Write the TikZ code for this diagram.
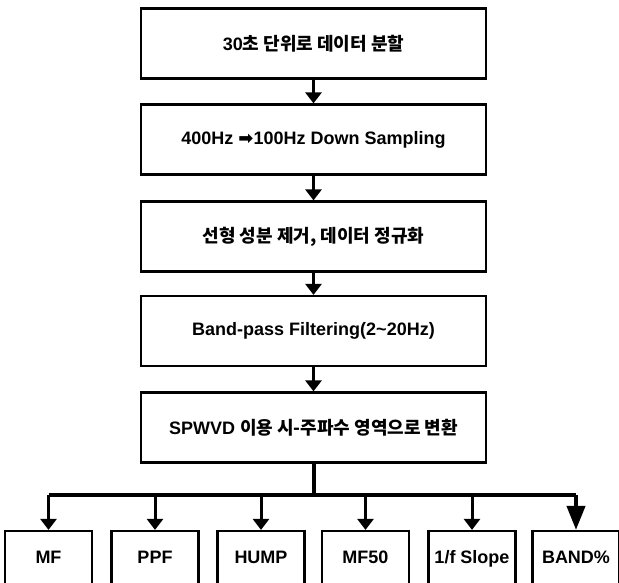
\documentclass[tikz,border=0pt]{standalone}
\usepackage{fontspec}
\setmainfont{Liberation Sans}
\newfontfamily\kor{Noto Sans CJK KR}
\newfontfamily\sym{DejaVu Sans}
\usetikzlibrary{arrows.meta, positioning}
\tikzset{
  stagebox/.style={
    rectangle, draw=black, line width=2.2pt,
    minimum width=345pt, minimum height=70pt,
    text centered, font=\fontsize{18}{21}\selectfont\bfseries
  },
  featbox/.style={
    rectangle, draw=black, line width=2.2pt,
    minimum width=87pt, minimum height=56pt,
    text height=13pt, text depth=4pt,
    text centered, font=\fontsize{18}{21}\selectfont\bfseries
  },
  steparrow/.style={-{Triangle[width=16pt,length=11pt]}, line width=3pt},
  busline/.style={line width=4pt},
  bigarrow/.style={-{Triangle[width=18pt,length=24pt]}, line width=4pt},
}

\begin{document}
\begin{tikzpicture}[x=1pt, y=-1pt]
  \fill[white] (0,0) rectangle (619,583);
  \useasboundingbox (0,0) rectangle (619,583);
  \clip (0,0) rectangle (619,583);
      % processing chain
      \node[stagebox] (split) at (313.5,43.5)  {30{\kor 초 단위로 데이터 분할}};
      \node[stagebox] (down)  at (313.5,139.5) {400Hz {\sym ➡}100Hz Down Sampling};
      \node[stagebox] (norm)  at (313.5,236.5) {\kor 선형 성분 제거, 데이터 정규화};
      \node[stagebox] (bpf)   at (313.5,331)   {Band-pass Filtering(2\textasciitilde20Hz)};
      \node[stagebox] (sp)    at (313.5,427.5) {SPWVD {\kor 이용 시-주파수 영역으로 변환}};
      \draw[steparrow] (split) -- (down);
      \draw[steparrow] (down)  -- (norm);
      \draw[steparrow] (norm)  -- (bpf);
      \draw[steparrow] (bpf)   -- (sp);
      % extracted features
      \node[featbox] (mf)    at (48.5,559)  {MF};
      \node[featbox] (ppf)   at (155,559)   {PPF};
      \node[featbox] (hump)  at (261,559)   {HUMP};
      \node[featbox] (mfhalf) at (365.5,559) {MF50};
      \node[featbox] (slope) at (472,559)   {1/f Slope};
      \node[featbox] (band)  at (576,559)   {BAND\%};
      \coordinate (bus) at (313.5,495);
      \draw[busline] (sp.south) -- (bus);
      \draw[busline] (bus -| mf.north) -- (bus -| band.north);
      \draw[steparrow] (bus -| mf.north)     -- (mf.north);
      \draw[steparrow] (bus -| ppf.north)    -- (ppf.north);
      \draw[steparrow] (bus -| hump.north)   -- (hump.north);
      \draw[steparrow] (bus -| mfhalf.north) -- (mfhalf.north);
      \draw[steparrow] (bus -| slope.north)  -- (slope.north);
      \draw[bigarrow]  (bus -| band.north)   -- (band.north);
    \end{tikzpicture}
\end{document}
